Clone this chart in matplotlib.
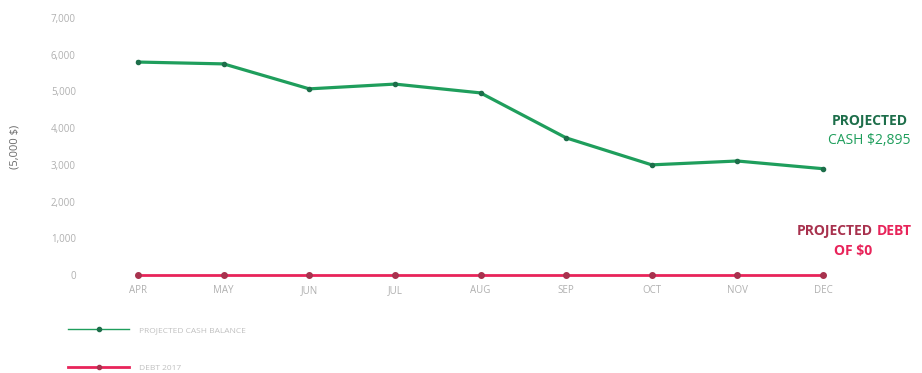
import matplotlib.pyplot as plt

plt.rcParams["font.family"] = ["Open Sans", "DejaVu Sans"]

months = ["APR", "MAY", "JUN", "JUL", "AUG", "SEP", "OCT", "NOV", "DEC"]
cash = [5800, 5750, 5070, 5200, 4960, 3735, 3000, 3105, 2895]
debt = [0, 0, 0, 0, 0, 0, 0, 0, 0]
y_ticks = [0, 1000, 2000, 3000, 4000, 5000, 6000, 7000]

green = "#1f9e5c"
green_dark = "#1d6e4a"
red = "#e8245a"
red_dark = "#a8324e"

fig = plt.figure(figsize=(9.22, 3.73), dpi=100)
ax = fig.add_axes([105 / 922, 98 / 373, 750 / 922, 257 / 373])

x = range(len(months))
ax.plot(x, cash, color=green, lw=2.3, marker="o", ms=3,
        mfc=green_dark, mec=green_dark, clip_on=False, zorder=3,
        label="PROJECTED CASH BALANCE")
ax.plot(x, debt, color=red, lw=2.0, marker="o", ms=4,
        mfc=red_dark, mec=red_dark, clip_on=False, zorder=3,
        label="DEBT 2017")

ax.set_xlim(-33 / 85.6, 8 + 32 / 85.6)
ax.set_ylim(0, 7000)
ax.set_xticks(list(x))
ax.set_xticklabels(months)
ax.set_yticks(y_ticks)
ax.set_yticklabels([f"{v:,}" for v in y_ticks])
ax.tick_params(length=0, labelsize=7, colors="#b0b0b0")
ax.tick_params(axis="y", pad=21)
ax.tick_params(axis="x", pad=7)
for s in ax.spines.values():
    s.set_visible(False)
ax.set_ylabel("(5,000 $)", fontsize=8, color="#6a6a6a", labelpad=22)

# end-of-year callouts
fig.text(908 / 922, 1 - 121 / 373, "PROJECTED", ha="right", va="center",
         fontsize=10, fontweight="bold", color=green_dark)
fig.text(910 / 922, 1 - 140 / 373, f"CASH ${cash[-1]:,}", ha="right",
         va="center", fontsize=10, color=green)
fig.text(873 / 922, 1 - 231 / 373, "PROJECTED", ha="right", va="center",
         fontsize=10, fontweight="bold", color=red_dark)
fig.text(877 / 922, 1 - 231 / 373, "DEBT", ha="left", va="center",
         fontsize=10, fontweight="bold", color=red)
fig.text(853 / 922, 1 - 251 / 373, f"OF ${debt[-1]:,}", ha="center",
         va="center", fontsize=10, fontweight="bold", color=red)

leg = fig.legend(loc="upper left", bbox_to_anchor=(64 / 922, 1 - 322 / 373),
                 frameon=False, fontsize=6, handlelength=7.3,
                 labelspacing=3.6, handletextpad=1.2, borderpad=0)
leg_widths = [1.0, 2.0]
for t, h, w in zip(leg.get_texts(), leg.legend_handles, leg_widths):
    t.set_color("#c0c0c0")
    h.set_linewidth(w)
    h.set_markersize(3)

fig.savefig("out.png", dpi=100)
